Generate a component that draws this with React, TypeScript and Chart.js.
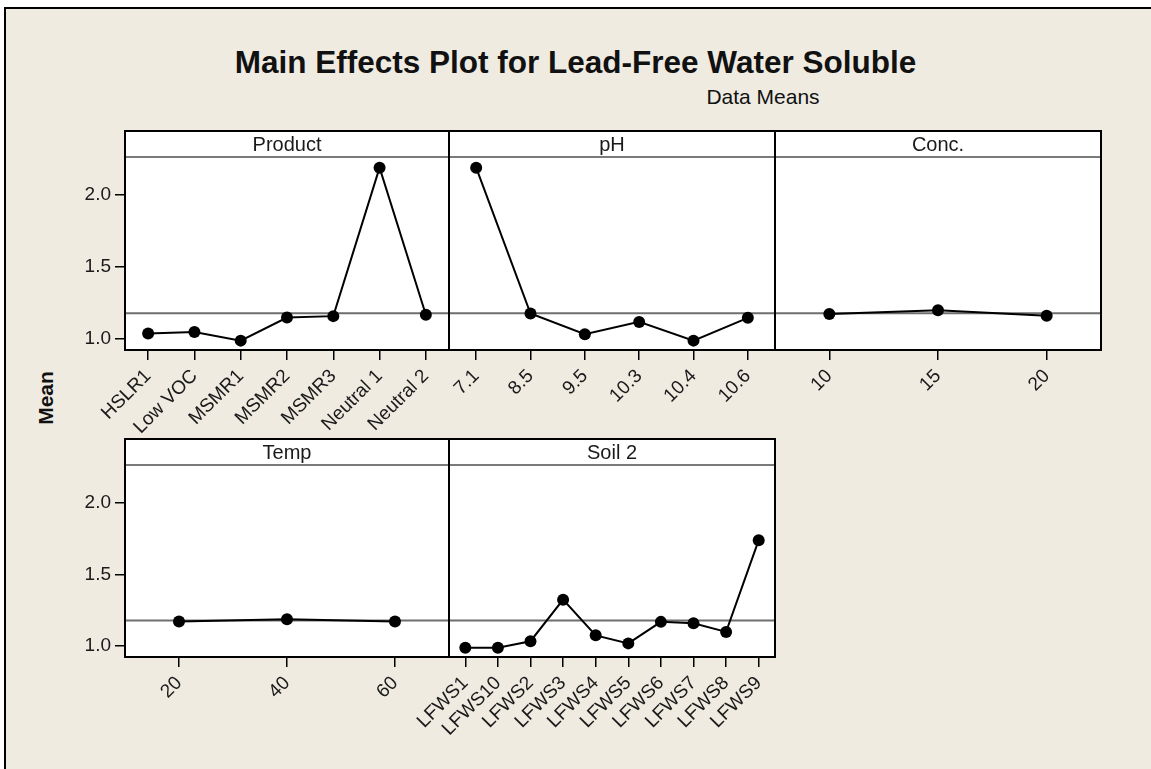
import React, { useEffect, useRef } from "react";
import { Chart, registerables } from "chart.js";

Chart.register(...registerables);

// ---------- data ----------
const TITLE = "Main Effects Plot for Lead-Free Water Soluble";
const SUBTITLE = "Data Means";
const Y_LABEL = "Mean";
const Y_TICKS = [1.0, 1.5, 2.0];
const Y_MIN = 0.925;
const Y_MAX = 2.264;
const GRAND_MEAN = 1.18;

const productLevels = ["HSLR1", "Low VOC", "MSMR1", "MSMR2", "MSMR3", "Neutral 1", "Neutral 2"];
const productMeans = [1.04, 1.05, 0.99, 1.15, 1.16, 2.19, 1.17];

const phLevels = ["7.1", "8.5", "9.5", "10.3", "10.4", "10.6"];
const phMeans = [2.19, 1.178, 1.035, 1.12, 0.99, 1.148];

const concLevels = ["10", "15", "20"];
const concMeans = [1.174, 1.2, 1.162];

const tempLevels = ["20", "40", "60"];
const tempMeans = [1.172, 1.188, 1.172];

const soilLevels = ["LFWS1", "LFWS10", "LFWS2", "LFWS3", "LFWS4", "LFWS5", "LFWS6", "LFWS7", "LFWS8", "LFWS9"];
const soilMeans = [0.99, 0.99, 1.035, 1.325, 1.076, 1.02, 1.17, 1.16, 1.1, 1.74];

// ---------- layout ----------
const FONT = "'Liberation Sans', Arial, sans-serif";
const STRIP_H = 26;
const Y_AXIS_W = 70;
const X_AXIS_H = 130;
const SIDE_PAD = 60;
const RIGHT_PAD = 50;
const TOP_PAD = 37;

type Panel = {
  name: string;
  labels: string[];
  values: number[];
  left: number;
  right: number;
  plotTop: number;
  plotBottom: number;
  showY: boolean;
};

const panels: Panel[] = [
  { name: "Product", labels: productLevels, values: productMeans, left: 125, right: 449, plotTop: 157, plotBottom: 350, showY: true },
  { name: "pH", labels: phLevels, values: phMeans, left: 449, right: 775, plotTop: 157, plotBottom: 350, showY: false },
  { name: "Conc.", labels: concLevels, values: concMeans, left: 775, right: 1101, plotTop: 157, plotBottom: 350, showY: false },
  { name: "Temp", labels: tempLevels, values: tempMeans, left: 125, right: 449, plotTop: 465, plotBottom: 657, showY: true },
  { name: "Soil 2", labels: soilLevels, values: soilMeans, left: 449, right: 775, plotTop: 465, plotBottom: 657, showY: false },
];

const panelPlugin = {
  id: "panel",
  beforeDraw(chart: any) {
    const { ctx, chartArea: a } = chart;
    ctx.save();
    ctx.fillStyle = "#ffffff";
    ctx.fillRect(a.left, a.top - STRIP_H, a.right - a.left, a.bottom - a.top + STRIP_H);
    ctx.restore();
  },
  beforeDatasetsDraw(chart: any, _args: any, opts: any) {
    const { ctx, chartArea: a } = chart;
    const y = chart.scales.y.getPixelForValue(opts.mean);
    ctx.save();
    ctx.strokeStyle = "#6e6e6e";
    ctx.lineWidth = 2;
    ctx.beginPath();
    ctx.moveTo(a.left, y);
    ctx.lineTo(a.right, y);
    ctx.stroke();
    ctx.restore();
  },
  afterDatasetsDraw(chart: any, _args: any, opts: any) {
    const { ctx, chartArea: a } = chart;
    ctx.save();
    ctx.strokeStyle = "#7a7a7a";
    ctx.lineWidth = 2;
    ctx.beginPath();
    ctx.moveTo(a.left, a.top);
    ctx.lineTo(a.right, a.top);
    ctx.stroke();
    ctx.strokeStyle = "#000000";
    ctx.lineWidth = 2;
    ctx.strokeRect(a.left, a.top - STRIP_H, a.right - a.left, a.bottom - a.top + STRIP_H);
    ctx.fillStyle = "#1a1a1a";
    ctx.font = `20px ${FONT}`;
    ctx.textAlign = "center";
    ctx.textBaseline = "middle";
    ctx.fillText(opts.strip, (a.left + a.right) / 2, a.top - STRIP_H / 2 + 1);
    ctx.restore();
  },
};

function PanelChart({ p }: { p: Panel }) {
  const ref = useRef<HTMLCanvasElement | null>(null);
  const padL = p.showY ? 0 : SIDE_PAD;
  const canvasLeft = p.showY ? p.left - Y_AXIS_W : p.left - SIDE_PAD;
  const canvasTop = p.plotTop - TOP_PAD;
  const width = p.right - canvasLeft + RIGHT_PAD;
  const height = p.plotBottom - canvasTop + X_AXIS_H;

  useEffect(() => {
    if (!ref.current) return;
    const chart = new Chart(ref.current, {
      type: "line",
      data: {
        labels: p.labels,
        datasets: [
          {
            data: p.values,
            borderColor: "#000000",
            backgroundColor: "#000000",
            borderWidth: 2,
            pointRadius: 6,
            pointBackgroundColor: "#000000",
            pointBorderWidth: 0,
            tension: 0,
            clip: false as any,
          },
        ],
      },
      options: {
        responsive: false,
        animation: false,
        events: [],
        layout: { padding: { left: padL, right: RIGHT_PAD, top: TOP_PAD, bottom: 0 } },
        plugins: {
          legend: { display: false },
          tooltip: { enabled: false },
          // @ts-ignore
          panel: { strip: p.name, mean: GRAND_MEAN },
        },
        scales: {
          x: {
            type: "category",
            offset: true,
            grid: {
              display: true,
              drawOnChartArea: false,
              drawTicks: true,
              tickLength: 10,
              color: "#000000",
              lineWidth: 1.5,
              offset: false,
            },
            border: { display: false },
            ticks: {
              autoSkip: false,
              minRotation: 45,
              maxRotation: 45,
              color: "#1a1a1a",
              font: { size: 19, family: FONT },
              padding: 5,
            },
            afterFit: (s: any) => {
              s.height = X_AXIS_H;
              s.paddingLeft = 0;
              s.paddingRight = 0;
            },
          },
          y: {
            display: p.showY,
            min: Y_MIN,
            max: Y_MAX,
            afterBuildTicks: (s: any) => {
              s.ticks = Y_TICKS.map((v) => ({ value: v }));
            },
            ticks: {
              callback: (v: any) => Number(v).toFixed(1),
              color: "#1a1a1a",
              font: { size: 19, family: FONT },
              padding: 4,
            },
            grid: {
              drawOnChartArea: false,
              drawTicks: true,
              tickLength: 10,
              color: "#000000",
              lineWidth: 1.5,
            },
            border: { display: false },
            afterFit: p.showY
              ? (s: any) => {
                  s.width = Y_AXIS_W;
                  s.paddingTop = 0;
                  s.paddingBottom = 0;
                }
              : undefined,
          },
        },
      } as any,
      plugins: [panelPlugin as any],
    });
    return () => chart.destroy();
  }, [p]);

  return (
    <canvas
      ref={ref}
      width={width}
      height={height}
      style={{ position: "absolute", left: canvasLeft, top: canvasTop, width, height }}
    />
  );
}

export default function App() {
  return (
    <div
      style={{
        position: "fixed",
        left: 0,
        top: 0,
        width: 1151,
        height: 769,
        overflow: "hidden",
        background: "#ffffff",
        fontFamily: FONT,
      }}
    >
      <div
        style={{
          position: "absolute",
          left: 4,
          top: 7,
          right: 0,
          bottom: 0,
          background: "#efebe1",
          borderLeft: "2px solid #000",
          borderTop: "2px solid #000",
        }}
      />
      <div
        style={{
          position: "absolute",
          left: 0,
          top: 46,
          width: 1151,
          textAlign: "center",
          fontSize: 31.5,
          lineHeight: "32px",
          fontWeight: "bold",
          color: "#111",
          whiteSpace: "nowrap",
        }}
      >
        {TITLE}
      </div>
      <div
        style={{
          position: "absolute",
          left: 563,
          top: 86,
          width: 400,
          textAlign: "center",
          fontSize: 21,
          lineHeight: "22px",
          color: "#111",
          whiteSpace: "nowrap",
        }}
      >
        {SUBTITLE}
      </div>
      <div
        style={{
          position: "absolute",
          left: 46,
          top: 398,
          transform: "translate(-50%, -50%) rotate(-90deg)",
          fontSize: 21,
          fontWeight: "bold",
          color: "#111",
          whiteSpace: "nowrap",
        }}
      >
        {Y_LABEL}
      </div>
      {panels.map((p) => (
        <PanelChart key={p.name} p={p} />
      ))}
    </div>
  );
}
